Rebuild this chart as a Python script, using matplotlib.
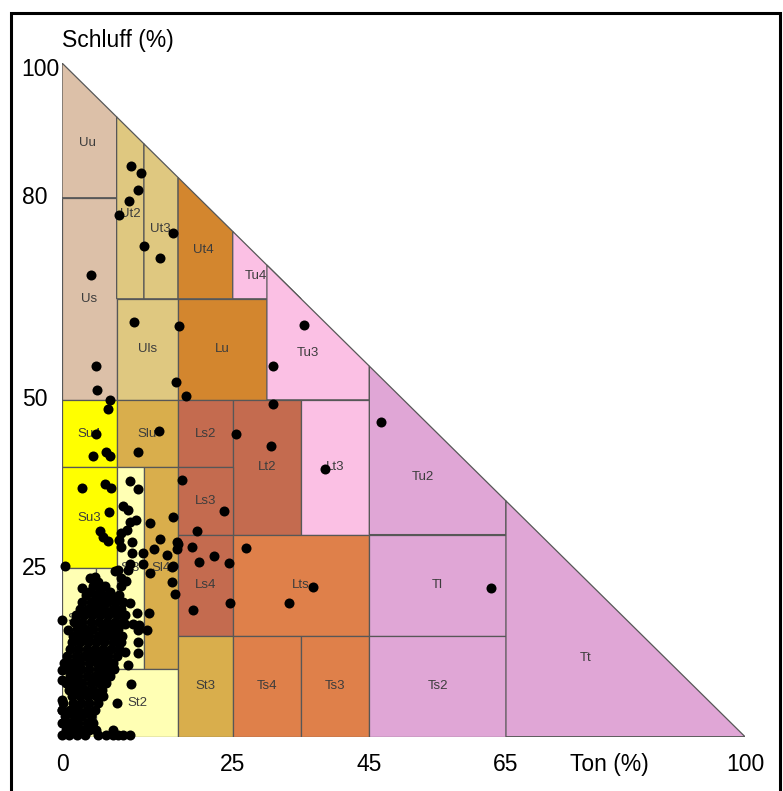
import numpy as np
import matplotlib.pyplot as plt
from matplotlib.patches import Polygon, Rectangle

plt.rcParams['font.family'] = ['Liberation Sans', 'DejaVu Sans']

# Bodenarten nach KA5: Name, Ton (von, bis), Schluff (von, bis)
klassen = ["Uu", "Us", "Ut2", "Ut3", "Ut4", "Tu4", "Uls", "Lu", "Tu3",
           "Su4", "Slu", "Ls2", "Lt2", "Lt3", "Tu2", "Su3", "Sl3", "Sl4",
           "Ls3", "Ls4", "Lts", "Tl", "Su2", "Sl2", "Ss", "St2", "St3",
           "Ts4", "Ts3", "Ts2", "Tt"]
ton_von = [0, 0, 8, 12, 17, 25, 8, 17, 30, 0, 8, 17, 25, 35, 45, 0, 8, 12,
           17, 17, 25, 45, 0, 5, 0, 5, 17, 25, 35, 45, 65]
ton_bis = [8, 8, 12, 17, 25, 35, 17, 30, 45, 8, 17, 25, 35, 45, 65, 8, 12, 17,
           25, 25, 45, 65, 5, 8, 5, 17, 25, 35, 45, 65, 100]
schluff_von = [80, 50, 65, 65, 65, 65, 50, 50, 50, 40, 40, 40, 30, 30, 30, 25,
               10, 10, 30, 15, 15, 15, 10, 10, 0, 0, 0, 0, 0, 0, 0]
schluff_bis = [100, 80, 100, 100, 100, 100, 65, 65, 100, 50, 50, 50, 50, 50,
               100, 40, 40, 40, 40, 30, 30, 30, 25, 25, 10, 10, 15, 15, 15,
               15, 100]

farben = {
    "Uu": "#dcc0a8", "Us": "#dcc0a8",
    "Ut2": "#dfc880", "Ut3": "#dfc880", "Uls": "#dfc880",
    "Slu": "#d9ae4c", "Sl4": "#d9ae4c", "St3": "#d9ae4c",
    "Ut4": "#d3862e", "Lu": "#d3862e",
    "Tu4": "#fbc0e4", "Tu3": "#fbc0e4", "Lt3": "#fbc0e4",
    "Tu2": "#e0a6d6", "Tl": "#e0a6d6", "Ts2": "#e0a6d6", "Tt": "#e0a6d6",
    "Ls2": "#c46b4f", "Ls3": "#c46b4f", "Ls4": "#c46b4f", "Lt2": "#c46b4f",
    "Lts": "#df804a", "Ts4": "#df804a", "Ts3": "#df804a",
    "Su4": "#ffff00", "Su3": "#ffff00",
    "Su2": "#ffffb4", "Sl2": "#ffffb4", "Sl3": "#ffffb4", "Ss": "#ffffb4",
    "St2": "#ffffb4",
}

# Proben (Ton %, Schluff %)
proben_oben = [
    (10.1, 84.7), (11.5, 83.6), (11.2, 81.1), (9.8, 79.5), (8.3, 77.5),
    (16.3, 74.7), (12.0, 72.8), (14.3, 71.0), (4.3, 68.6), (10.6, 61.6),
    (17.2, 61.0), (35.4, 61.1), (5.0, 55.0), (30.9, 55.0), (5.1, 51.4),
    (16.7, 52.7), (18.2, 50.5), (7.1, 50.0), (6.7, 48.6), (30.9, 49.4),
    (46.7, 46.7), (5.0, 44.9), (14.2, 45.4), (25.5, 44.9), (30.6, 43.2),
    (11.2, 42.2), (6.5, 42.3), (7.0, 41.7), (4.5, 41.6), (38.5, 39.7),
    (17.5, 38.1), (23.7, 33.5), (16.3, 32.6), (19.7, 30.6), (14.3, 29.3),
    (16.9, 28.9), (16.9, 27.8), (19.0, 28.2), (27.0, 28.0), (15.4, 26.9),
    (22.3, 26.8), (20.1, 26.0), (24.4, 25.8), (16.1, 25.2), (16.1, 23.0),
    (16.6, 21.2), (36.7, 22.2), (24.6, 19.9), (33.3, 19.9), (19.2, 18.8),
    (62.8, 22.1),
]
proben_sand = [
    (3.0, 36.9), (6.3, 37.5), (7.2, 36.9), (6.9, 33.4), (5.5, 30.5),
    (6.0, 29.7), (6.7, 29.1), (0.4, 25.4),
    (10.0, 38.0), (11.2, 36.7), (9.0, 34.3), (9.6, 33.6), (10.0, 31.9),
    (10.8, 32.2), (8.7, 30.2), (9.5, 30.7), (8.4, 29.2), (10.2, 28.9),
    (8.6, 28.2), (10.3, 27.2), (10.0, 25.7), (9.7, 24.8), (8.2, 24.8),
    (7.8, 24.6), (8.7, 23.6), (9.4, 23.1), (10.0, 19.8), (11.0, 18.4),
    (10.4, 16.8), (11.3, 16.6), (12.4, 15.9), (11.2, 14.1), (11.2, 12.4),
    (12.9, 31.7), (13.4, 27.8), (11.9, 27.2), (11.9, 25.7), (12.9, 24.3),
    (16.3, 25.4), (12.8, 18.3), (17.0, 28.6),
    (4.1, 23.5), (4.8, 23.7), (5.3, 23.0), (4.6, 22.3), (2.9, 22.0),
    (3.9, 21.5), (5.6, 21.8), (6.3, 22.3), (7.0, 21.5), (8.7, 22.4),
    (0.0, 17.3), (0.9, 15.9), (0.0, 9.9), (0.0, 8.4), (0.0, 5.5),
    (0.0, 4.0), (0.2, 2.0), (9.2, 12.6), (9.6, 10.7), (10.1, 7.8),
    (8.0, 5.0), (7.5, 1.0), (9.2, 16.8), (11.2, 15.9),
]
proben_haufen = [
    (3.5, 21), (4.8, 21), (6.0, 21), (7.2, 21), (8.4, 21),
    (3.0, 20), (4.2, 20), (5.4, 20), (6.6, 20), (7.8, 20), (9.0, 20),
    (2.6, 19), (3.8, 19), (5.0, 19), (6.2, 19), (7.4, 19), (8.6, 19),
    (2.0, 18), (3.2, 18), (4.4, 18), (5.6, 18), (6.8, 18), (8.0, 18), (9.2, 18),
    (1.8, 17), (3.0, 17), (4.2, 17), (5.4, 17), (6.6, 17), (7.8, 17), (9.0, 17),
    (2.2, 16), (3.4, 16), (4.6, 16), (5.8, 16), (7.0, 16), (8.2, 16),
    (1.6, 15), (2.8, 15), (4.0, 15), (5.2, 15), (6.4, 15), (7.6, 15), (8.8, 15),
    (1.4, 14), (2.6, 14), (3.8, 14), (5.0, 14), (6.2, 14), (7.4, 14), (8.6, 14),
    (1.2, 13), (2.4, 13), (3.6, 13), (4.8, 13), (6.0, 13), (7.2, 13), (8.4, 13),
    (0.8, 12), (2.0, 12), (3.2, 12), (4.4, 12), (5.6, 12), (6.8, 12), (8.0, 12),
    (0.3, 11), (1.5, 11), (2.7, 11), (3.9, 11), (5.1, 11), (6.3, 11), (7.5, 11),
    (0.4, 10), (1.6, 10), (2.8, 10), (4.0, 10), (5.2, 10), (6.4, 10), (7.6, 10),
    (1.2, 9), (2.4, 9), (3.6, 9), (4.8, 9), (6.0, 9), (7.0, 9),
    (0.6, 8), (1.8, 8), (3.0, 8), (4.2, 8), (5.4, 8), (6.4, 8),
    (1.0, 7), (2.2, 7), (3.4, 7), (4.6, 7), (5.8, 7),
    (1.4, 6), (2.6, 6), (3.8, 6), (5.0, 6), (6.0, 6),
    (0.2, 5), (1.6, 5), (2.8, 5), (4.0, 5), (5.2, 5),
    (0.0, 4), (1.2, 4), (2.4, 4), (3.6, 4), (4.8, 4),
    (0.4, 3), (1.8, 3), (3.0, 3), (4.2, 3),
    (0.0, 2), (1.2, 2), (2.4, 2), (3.6, 2), (4.6, 2),
    (0.6, 1), (1.8, 1), (3.0, 1), (4.0, 1), (5.0, 1),
    (0.0, 0.2), (1.0, 0.2), (2.2, 0.2), (3.4, 0.2), (5.2, 0.2), (6.4, 0.2),
    (7.4, 0.2), (8.2, 0.2), (9.0, 0.2), (10.0, 0.2),
]

achse_ton = [0, 25, 45, 65, 100]
achse_schluff = [100, 80, 50, 25]


def feld(t0, t1, u0, u1):
    # Rechteck, abgeschnitten an der Linie Ton + Schluff = 100
    pts = [(t0, u0), (t1, u0)]
    if u1 <= 100 - t1:
        pts += [(t1, u1), (t0, u1)]
    elif u1 < 100 - t0:
        pts += [(t1, 100 - t1), (100 - u1, u1), (t0, u1)]
    else:
        pts += [(t1, 100 - t1), (t0, 100 - t0)]
    return np.array(pts, dtype=float)


def schwerpunkt(p):
    x, y = p[:, 0], p[:, 1]
    x1, y1 = np.roll(x, -1), np.roll(y, -1)
    c = x * y1 - x1 * y
    a = c.sum() / 2
    return (((x + x1) * c).sum() / (6 * a), ((y + y1) * c).sum() / (6 * a))


fig = plt.figure(figsize=(7.83, 7.91), dpi=100)
ax = fig.add_axes([62 / 783, (791 - 736.7) / 791, 683 / 783, 673.7 / 791])
ax.set_xlim(0, 100)
ax.set_ylim(0, 100)
ax.axis('off')

for name, t0, t1, u0, u1 in zip(klassen, ton_von, ton_bis, schluff_von, schluff_bis):
    p = feld(t0, t1, u0, u1)
    ax.add_patch(Polygon(p, closed=True, facecolor=farben[name],
                         edgecolor='#575757', linewidth=0.9, zorder=1))
    cx, cy = schwerpunkt(p)
    ax.text(cx, cy, name, ha='center', va='center', fontsize=9.5,
            color='#3c3c3c', zorder=2)

pr = np.array(proben_oben + proben_sand + proben_haufen)
ax.scatter(pr[:, 0], pr[:, 1], s=52, color='black', linewidths=0,
           zorder=3, clip_on=False)

for v in achse_ton:
    ax.text(v, -4.2, str(v), ha='center', va='center', fontsize=16.5,
            clip_on=False)
ax.text(80.2, -4.2, "Ton (%)", ha='center', va='center', fontsize=16.5,
        clip_on=False)
for v in achse_schluff:
    ax.text(-5.9, v if v < 100 else 99, str(v), ha='left', va='center',
            fontsize=16.5, clip_on=False)
ax.text(0, 103.3, "Schluff (%)", ha='left', va='center', fontsize=16.5,
        clip_on=False)

fig.patches.append(Rectangle((11 / 783, -0.05), 769 / 783, 1.05 - 13 / 791,
                             transform=fig.transFigure, fill=False,
                             edgecolor='black', linewidth=2.2))

fig.savefig("out.png", dpi=100)
